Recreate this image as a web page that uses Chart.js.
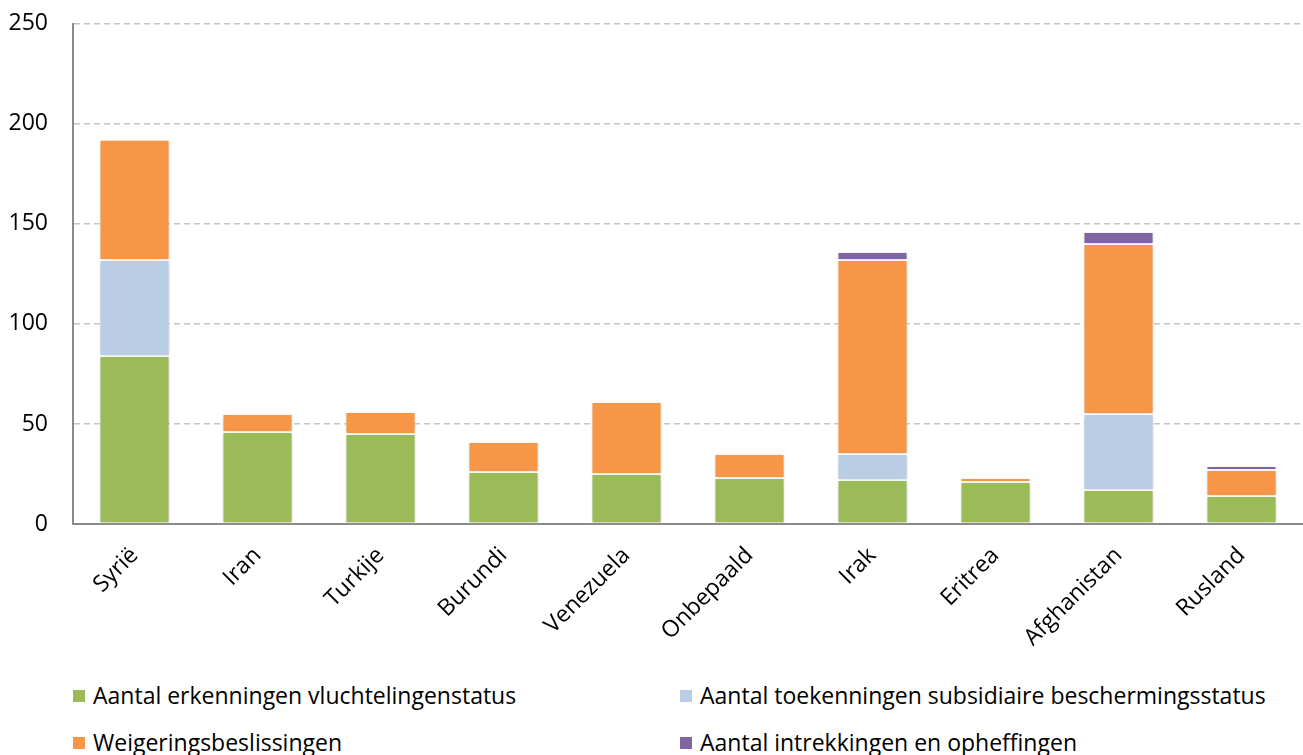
<!DOCTYPE html>
<html>
<head>
<meta charset="utf-8">
<script src="https://cdn.jsdelivr.net/npm/chart.js@4"></script>
<style>
  body { margin: 0; background: #fff; }
  #wrap { position: relative; width: 1303px; height: 755px; overflow: hidden; }
  #chartBox { position: absolute; left: 0; top: -15px; width: 1303px; height: 675px; }
  .legend-item { position: absolute; font: 23px "Open Sans", sans-serif; color: #000; line-height: 28px; white-space: nowrap; }
  .legend-item span { display: inline-block; width: 12px; height: 12px; margin-right: 8px; vertical-align: 2px; }
</style>
</head>
<body>
<div id="wrap">
  <div id="chartBox"><canvas id="chart"></canvas></div>
  <div id="legend"></div>
</div>
<script>
const countries = ["Syrië", "Iran", "Turkije", "Burundi", "Venezuela", "Onbepaald", "Irak", "Eritrea", "Afghanistan", "Rusland"];
const erkenningen = [84, 46, 45, 26, 25, 23, 22, 21, 17, 14];
const subsidiair = [48, 0, 0, 0, 0, 0, 13, 0, 38, 0];
const weigeringen = [60, 9, 11, 15, 36, 12, 97, 2, 85, 13];
const intrekkingen = [0, 0, 0, 0, 0, 0, 4, 0, 6, 2];
const yTicks = [0, 50, 100, 150, 200, 250];

const seriesNames = [
  "Aantal erkenningen vluchtelingenstatus",
  "Aantal toekenningen subsidiaire beschermingsstatus",
  "Weigeringsbeslissingen",
  "Aantal intrekkingen en opheffingen",
];
const seriesColors = ["#9BBB59", "#B9CDE5", "#F79646", "#8064A2"];
const seriesData = [erkenningen, subsidiair, weigeringen, intrekkingen];

// zachte schaduw achter de balken, zoals in het origineel
const shadowPlugin = {
  id: "barShadow",
  beforeDatasetsDraw(chart) {
    const ctx = chart.ctx;
    ctx.save();
    ctx.shadowColor = "rgba(0,0,0,0.18)";
    ctx.shadowBlur = 5;
    ctx.shadowOffsetX = 1;
    ctx.shadowOffsetY = 1;
  },
  afterDatasetsDraw(chart) {
    chart.ctx.restore();
  },
};

new Chart(document.getElementById("chart"), {
  type: "bar",
  data: {
    labels: countries,
    datasets: seriesData.map(function (d, i) {
      return {
        label: seriesNames[i],
        data: d,
        backgroundColor: seriesColors[i],
        borderColor: "#ffffff",
        borderWidth: 1,
        borderSkipped: false,
        categoryPercentage: 1,
        barPercentage: 0.57,
      };
    }),
  },
  options: {
    responsive: true,
    maintainAspectRatio: false,
    animation: false,
    layout: { padding: { top: 8, right: 0, left: 0, bottom: 0 } },
    plugins: { legend: { display: false }, tooltip: { enabled: false } },
    scales: {
      x: {
        stacked: true,
        grid: { display: false, drawTicks: false },
        border: { color: "#8a8a8a", width: 2 },
        ticks: {
          color: "#000",
          font: { family: "Open Sans", size: 23 },
          minRotation: 45,
          maxRotation: 45,
          padding: 18,
        },
        afterFit(scale) { scale.height = 136; },
      },
      y: {
        stacked: true,
        min: 0,
        max: 250,
        afterBuildTicks(scale) {
          scale.ticks = yTicks.map(function (v) { return { value: v }; });
        },
        grid: {
          color: "#c4c4c4",
          lineWidth: 1.5,
          drawTicks: false,
        },
        border: { color: "#8a8a8a", width: 2, dash: [6, 4] },
        ticks: {
          color: "#000",
          font: { family: "Open Sans", size: 23 },
          padding: 25,
        },
        afterFit(scale) { scale.width = 73; },
      },
    },
  },
  plugins: [shadowPlugin],
});

// legenda in twee kolommen onder de grafiek
const legendPos = [[73, 681], [680, 681], [73, 728], [680, 728]];
const legendEl = document.getElementById("legend");
seriesNames.forEach(function (name, i) {
  const item = document.createElement("div");
  item.className = "legend-item";
  item.style.left = legendPos[i][0] + "px";
  item.style.top = legendPos[i][1] + "px";
  item.innerHTML = '<span style="background:' + seriesColors[i] + '"></span>' + name;
  legendEl.appendChild(item);
});
</script>
</body>
</html>
